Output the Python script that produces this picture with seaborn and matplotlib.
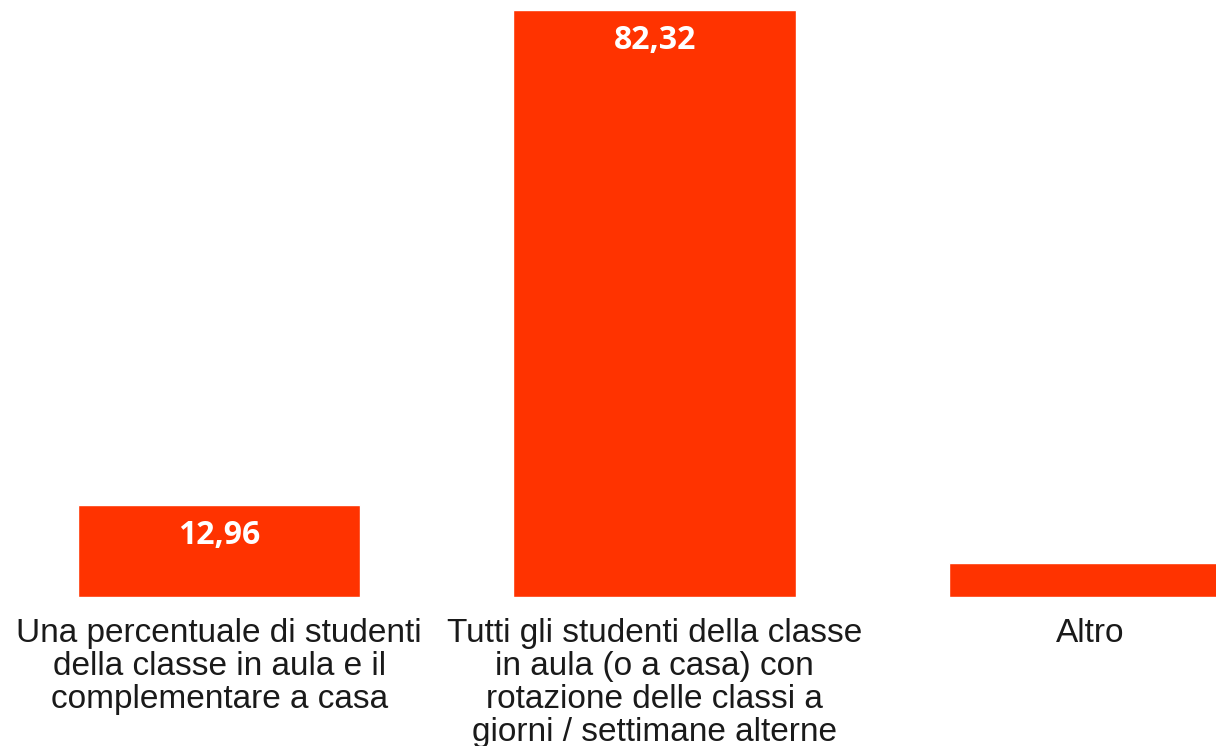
import pandas as pd
import matplotlib
matplotlib.use("Agg")
import matplotlib.pyplot as plt
import seaborn as sns

categories = [
    "Una percentuale di studenti\ndella classe in aula e il\ncomplementare a casa",
    "Tutti gli studenti della classe\nin aula (o a casa) con\nrotazione delle classi a\ngiorni / settimane alterne",
    "Altro",
]
values = [12.96, 82.32, 4.72]

df = pd.DataFrame({"categoria": categories, "percentuale": values})

sns.set_style("white")
plt.rcParams["font.family"] = ["Liberation Sans", "DejaVu Sans"]

fig = plt.figure(figsize=(12.16, 7.46), dpi=100)
ax = fig.add_axes([0, 0.1997, 1, 0.8003])

sns.barplot(data=df, x="categoria", y="percentuale", color="#ff3300",
            saturation=1, width=0.648, ax=ax)

# value labels inside the bars, only where the bar is tall enough
labels = [f"{v:.2f}".replace(".", ",") if v > 10 else "" for v in values]
ax.bar_label(ax.containers[0], labels=labels, label_type="edge",
             padding=-34, color="white", fontsize=23, fontweight="bold",
             family=["Open Sans", "DejaVu Sans"])

ax.set_xlim(-0.503, 2.289)
ax.set_ylim(0, 83.72)
ax.set_xlabel("")
ax.set_ylabel("")
ax.set_yticks([])
ax.tick_params(axis="x", length=0, pad=15, labelsize=24, labelcolor="#1a1a1a")
for lbl in ax.get_xticklabels():
    lbl.set_linespacing(1.08)
sns.despine(ax=ax, left=True, bottom=True)

fig.savefig("out.png", dpi=100)
